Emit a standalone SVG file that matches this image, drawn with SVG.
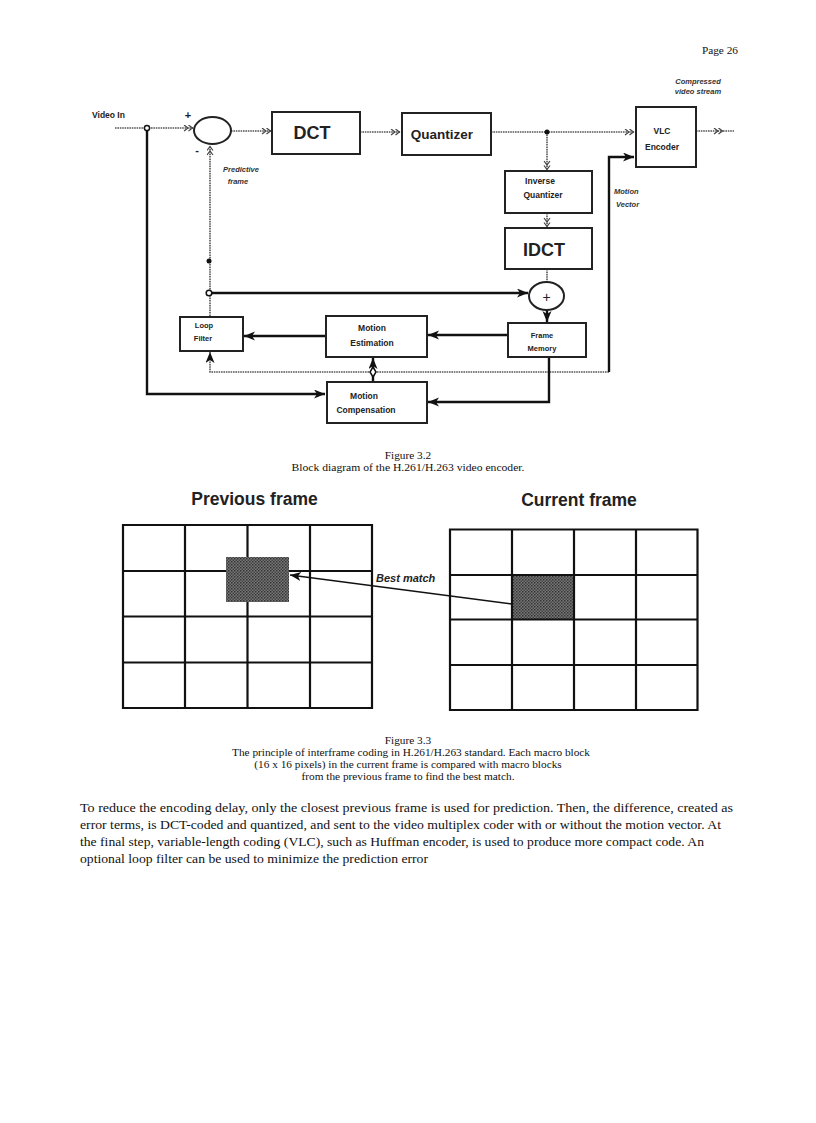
<svg xmlns="http://www.w3.org/2000/svg" width="816" height="1123" viewBox="0 0 816 1123">
<style>
.bx{fill:#fff;stroke:#222;stroke-width:2}
.dot{fill:none;stroke:#555;stroke-width:1.6;stroke-dasharray:1.6 0.8}
.sol{fill:none;stroke:#111;stroke-width:2.4}
.lb{font-family:"Liberation Sans",Arial,sans-serif;font-weight:bold;fill:#222;text-anchor:middle}
.it{font-family:"Liberation Sans",Arial,sans-serif;font-weight:bold;font-style:italic;fill:#333;font-size:7.5px}
.cap{font-family:"Liberation Serif","Times New Roman",serif;fill:#111;font-size:11.3px;text-anchor:middle}
.body{font-family:"Liberation Serif","Times New Roman",serif;fill:#111;font-size:13.5px}
.grid{fill:none;stroke:#111;stroke-width:2.2}
</style>
<defs>
<marker id="fa" markerUnits="userSpaceOnUse" markerWidth="12" markerHeight="10" refX="11" refY="4.5" orient="auto"><path d="M0,0 L11,4.5 L0,9 L3,4.5 z" fill="#111"/></marker>
<marker id="ch" markerUnits="userSpaceOnUse" markerWidth="12" markerHeight="8" refX="10" refY="3.5" orient="auto"><path d="M1,0.5 L5,3.5 L1,6.5 M5.5,0.5 L9.5,3.5 L5.5,6.5" fill="none" stroke="#444" stroke-width="1.2"/></marker>
<pattern id="stip" width="3" height="3" patternUnits="userSpaceOnUse"><rect width="3" height="3" fill="#777"/><rect width="1.5" height="1.5" fill="#333"/><rect x="1.5" y="1.5" width="1.5" height="1.5" fill="#444"/></pattern>
</defs>
<rect width="816" height="1123" fill="#fff"/>
<text x="738" y="54" class="cap" style="text-anchor:end">Page 26</text>

<g id="connectors">
<path class="dot" d="M115,128 L193,128" marker-end="url(#ch)"/>
<path class="sol" d="M147,131 L147,394 L325,394" marker-end="url(#fa)"/>
<path class="dot" d="M231,131 L271,131" marker-end="url(#ch)"/>
<path class="dot" d="M360,132 L400,132" marker-end="url(#ch)"/>
<path class="dot" d="M491,132 L634,132" marker-end="url(#ch)"/>
<path class="dot" d="M696,131 L723,131" marker-end="url(#ch)"/>
<path class="dot" d="M723,131 L734,131"/>
<path class="dot" d="M547,132 L547,170" marker-end="url(#ch)"/>
<path class="dot" d="M547,213 L547,227" marker-end="url(#ch)"/>
<path class="dot" d="M547,269 L547,282"/>
<path class="sol" d="M547,310 L547,322" marker-end="url(#fa)"/>
<path class="sol" d="M211,293 L528,293" marker-end="url(#fa)"/>
<path class="dot" d="M210,316 L210,146" marker-end="url(#ch)"/>
<path class="sol" d="M508,335 L428,335" marker-end="url(#fa)"/>
<path class="sol" d="M326,336 L244,336" marker-end="url(#fa)"/>
<path class="dot" d="M609,372 L210,372 L210,352" marker-end="url(#fa)"/>
<path class="sol" d="M609,372 L609,157 L634,157" marker-end="url(#fa)"/>
<path class="sol" d="M373,381 L373,358" marker-end="url(#fa)"/>
<path d="M373,367 L376,372 L373,377 L370,372 z" fill="#fff" stroke="#111" stroke-width="1.5"/>
<path class="sol" d="M549,357 L549,402 L428,402" marker-end="url(#fa)"/>
<circle cx="147" cy="128" r="2.6" fill="#fff" stroke="#111" stroke-width="1.5"/>
<circle cx="547" cy="132" r="2.5" fill="#111"/>
<circle cx="209" cy="261" r="2.5" fill="#111"/>
<circle cx="209" cy="293" r="2.8" fill="#fff" stroke="#111" stroke-width="1.5"/>
</g>

<g id="labels">
<text x="92" y="118" class="lb" style="font-size:8.5px;text-anchor:start">Video In</text>
<text x="188" y="119" class="lb" style="font-size:11px">+</text>
<text x="197" y="154" class="lb" style="font-size:11px">-</text>
<text x="241" y="172" class="it" style="text-anchor:middle">Predictive</text>
<text x="238" y="184" class="it" style="text-anchor:middle">frame</text>
<text x="698" y="84" class="it" style="text-anchor:middle">Compressed</text>
<text x="698" y="94" class="it" style="text-anchor:middle">video stream</text>
<text x="614" y="194" class="it">Motion</text>
<text x="616" y="207" class="it">Vector</text>
</g>

<g id="sum"><ellipse cx="212.5" cy="130.5" rx="18.5" ry="13.5" fill="#fff" stroke="#222" stroke-width="2"/></g>
<g id="dct"><rect class="bx" x="272" y="112" width="88" height="42"/><text x="312" y="139" class="lb" style="font-size:18px">DCT</text></g>
<g id="quantizer"><rect class="bx" x="402" y="113" width="89" height="42"/><text x="442" y="139" class="lb" style="font-size:13.5px">Quantizer</text></g>
<g id="vlc"><rect class="bx" x="636" y="107" width="60" height="60"/><text x="662" y="134" class="lb" style="font-size:8.5px">VLC</text><text x="662" y="150" class="lb" style="font-size:8.5px">Encoder</text></g>
<g id="iq"><rect class="bx" x="505" y="171" width="87" height="42"/><text x="540" y="184" class="lb" style="font-size:8.5px">Inverse</text><text x="543" y="198" class="lb" style="font-size:8.5px">Quantizer</text></g>
<g id="idct"><rect class="bx" x="505" y="228" width="87" height="41"/><text x="544" y="256" class="lb" style="font-size:18px">IDCT</text></g>
<g id="adder"><ellipse cx="546.5" cy="296" rx="17.5" ry="14" fill="#fff" stroke="#222" stroke-width="2"/><text x="546.5" y="302" class="lb" style="font-size:14px;font-weight:normal">+</text></g>
<g id="framemem"><rect class="bx" x="508" y="323" width="78" height="34"/><text x="542" y="338" class="lb" style="font-size:7.5px">Frame</text><text x="542" y="351" class="lb" style="font-size:7.5px">Memory</text></g>
<g id="motionest"><rect class="bx" x="326" y="316" width="101" height="41"/><text x="372" y="331" class="lb" style="font-size:8.5px">Motion</text><text x="372" y="346" class="lb" style="font-size:8.5px">Estimation</text></g>
<g id="loopfilter"><rect class="bx" x="180" y="317" width="63" height="34"/><text x="204" y="328" class="lb" style="font-size:7.5px">Loop</text><text x="203" y="341" class="lb" style="font-size:7.5px">Filter</text></g>
<g id="motioncomp"><rect class="bx" x="327" y="382" width="100" height="41"/><text x="364" y="399" class="lb" style="font-size:8.5px">Motion</text><text x="366" y="413" class="lb" style="font-size:8.5px">Compensation</text></g>

<text x="408" y="459" class="cap">Figure 3.2</text>
<text x="408" y="471" class="cap" textLength="233" lengthAdjust="spacingAndGlyphs">Block diagram of the H.261/H.263 video encoder.</text>

<g id="fig33">
<text x="254.5" y="505" class="lb" style="font-size:17.5px">Previous frame</text>
<text x="579" y="506" class="lb" style="font-size:17.5px">Current frame</text>
<path class="grid" d="M123,525 H372 V708 H123 Z M185,525 V708 M247.5,525 V708 M310,525 V708 M123,571 H372 M123,616.5 H372 M123,662.5 H372"/>
<rect x="226" y="557" width="63" height="45" fill="url(#stip)"/>
<rect x="512" y="575" width="62" height="44.5" fill="url(#stip)"/>
<path class="grid" d="M450,529.5 H697.5 V710 H450 Z M512,529.5 V710 M574,529.5 V710 M636,529.5 V710 M450,575 H697.5 M450,619.5 H697.5 M450,665 H697.5"/>
<path d="M512,604 L290,575" stroke="#111" stroke-width="1.4" fill="none" marker-end="url(#fa)"/>
<text x="376" y="582" class="lb" style="font-size:11px;font-style:italic;text-anchor:start">Best match</text>
</g>

<text x="408" y="744" class="cap">Figure 3.3</text>
<text x="411" y="756" class="cap" textLength="358" lengthAdjust="spacingAndGlyphs">The principle of interframe coding in H.261/H.263 standard. Each macro block</text>
<text x="408" y="768" class="cap">(16 x 16 pixels) in the current frame is compared with macro blocks</text>
<text x="408" y="780" class="cap">from the previous frame to find the best match.</text>

<text x="80" y="812" class="body" textLength="653" lengthAdjust="spacingAndGlyphs">To reduce the encoding delay, only the closest previous frame is used for prediction. Then, the difference, created as</text>
<text x="80" y="829" class="body" textLength="641" lengthAdjust="spacingAndGlyphs">error terms, is DCT-coded and quantized, and sent to the video multiplex coder with or without the motion vector. At</text>
<text x="80" y="846" class="body" textLength="624" lengthAdjust="spacingAndGlyphs">the final step, variable-length coding (VLC), such as Huffman encoder, is used to produce more compact code. An</text>
<text x="80" y="863" class="body" textLength="348" lengthAdjust="spacingAndGlyphs">optional loop filter can be used to minimize the prediction error</text>
</svg>
